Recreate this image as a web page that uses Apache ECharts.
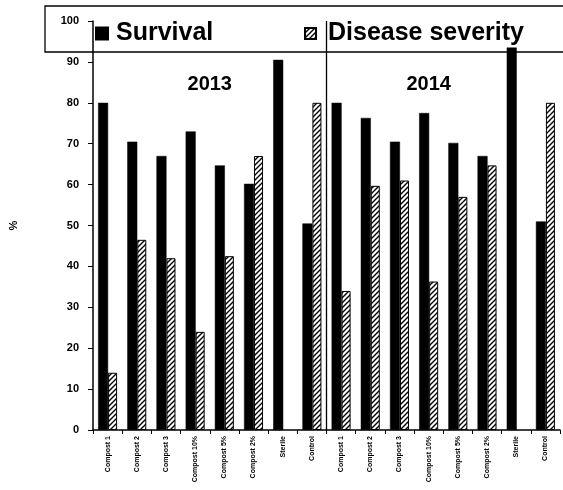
<!DOCTYPE html>
<html><head><meta charset="utf-8">
<script src="https://cdn.jsdelivr.net/npm/echarts@6/dist/echarts.min.js"></script>
<style>html,body{margin:0;padding:0;background:#fff}#c{width:563px;height:490px}</style>
</head><body><div id="c"></div>
<script>
const treatments = ['Compost 1','Compost 2','Compost 3','Compost 10%','Compost 5%','Compost 2%','Sterile','Control'];
const years = ['2013','2014'];
const survival2013 = [80, 70.5, 67, 73, 64.7, 60.2, 90.5, 50.5];
const survival2014 = [80, 76.3, 70.5, 77.5, 70.2, 67, 93.5, 51];
const severity2013 = [14, 46.5, 42, 24, 42.5, 67, '-', 80];
const severity2014 = [34, 59.7, 61, 36.3, 57, 64.7, '-', 80];
const yTicks = {min: 0, max: 100, interval: 10};

const categories = years.flatMap(y => treatments.map(t => y + '|' + t));
const survival = survival2013.concat(survival2014);
const severity = severity2013.concat(severity2014);

function hatch() {
  const s = 5, c = document.createElement('canvas');
  c.width = s; c.height = s;
  const g = c.getContext('2d');
  g.fillStyle = '#fff'; g.fillRect(0, 0, s, s);
  g.strokeStyle = '#000'; g.lineWidth = 1.4;
  g.beginPath();
  g.moveTo(-1, s + 1); g.lineTo(s + 1, -1);
  g.moveTo(-1, 1); g.lineTo(1, -1);
  g.moveTo(s - 1, s + 1); g.lineTo(s + 1, s - 1);
  g.stroke();
  return c;
}
const hatchFill = {image: hatch(), repeat: 'repeat'};
const FONT = '"Liberation Sans", Arial, sans-serif';

const chart = echarts.init(document.getElementById('c'), null, {renderer: 'canvas'});
chart.setOption({
  animation: false,
  backgroundColor: '#fff',
  textStyle: {fontFamily: FONT},
  grid: {left: 91, right: 3, top: 21, bottom: 60, containLabel: false},
  legend: [
    {data: ['Survival'], left: 90, top: 16, icon: 'rect', itemWidth: 12, itemHeight: 12, itemGap: 6,
     textStyle: {fontFamily: FONT, fontWeight: 'bold', fontSize: 25, color: '#000', padding: [0,0,0,3]}},
    {data: ['Disease severity'], left: 299, top: 16, icon: 'rect', itemWidth: 11, itemHeight: 11, itemGap: 6,
     textStyle: {fontFamily: FONT, fontWeight: 'bold', fontSize: 25, color: '#000', padding: [0,0,0,7]}}
  ],
  xAxis: {
    type: 'category', data: categories,
    axisLine: {lineStyle: {color: '#000', width: 1.5}},
    axisTick: {show: true, length: 4, lineStyle: {color: '#000'}},
    axisLabel: {rotate: 90, fontSize: 7, fontWeight: 'bold', color: '#000', margin: 6,
      formatter: v => v.split('|')[1]},
    splitLine: {show: false}
  },
  yAxis: {
    type: 'value', min: yTicks.min, max: yTicks.max, interval: yTicks.interval,
    name: '%', nameLocation: 'middle', nameGap: 74, nameRotate: 90,
    nameTextStyle: {fontSize: 11, fontWeight: 'bold', color: '#000'},
    axisLine: {show: true, lineStyle: {color: '#000', width: 1.5}},
    axisTick: {show: true, length: 5, lineStyle: {color: '#000'}},
    axisLabel: {fontSize: 11, fontWeight: 'bold', color: '#000', margin: 14},
    splitLine: {show: false}
  },
  series: [
    {name: 'Survival', type: 'bar', data: survival, barWidth: 10, barGap: '0%',
     itemStyle: {color: '#000', borderColor: '#000', borderWidth: 0.5}},
    {name: 'Disease severity', type: 'bar', data: severity, barWidth: 9, barGap: '0%',
     itemStyle: {color: hatchFill, borderColor: '#000', borderWidth: 1}}
  ]
});

// annotations positioned from the axis scales
const p = i => chart.convertToPixel({xAxisIndex: 0}, categories[i]);
const yTop = chart.convertToPixel({yAxisIndex: 0}, yTicks.max);
const yBot = chart.convertToPixel({yAxisIndex: 0}, yTicks.min);
const yYear = chart.convertToPixel({yAxisIndex: 0}, 84.5);
const divX = (p(7) + p(8)) / 2;
chart.setOption({
  graphic: [
    {type: 'rect', shape: {x: 45, y: 6, width: 530, height: 46}, silent: true,
     style: {fill: null, stroke: '#000', lineWidth: 1.3}},
    {type: 'line', shape: {x1: divX, y1: yTop, x2: divX, y2: yBot}, silent: true,
     style: {stroke: '#000', lineWidth: 1.3}},
    {type: 'text', x: (p(3) + p(4)) / 2, y: yYear, silent: true,
     style: {text: years[0], font: 'bold 20px ' + FONT, fill: '#000', align: 'center', verticalAlign: 'middle'}},
    {type: 'text', x: p(11), y: yYear, silent: true,
     style: {text: years[1], font: 'bold 20px ' + FONT, fill: '#000', align: 'center', verticalAlign: 'middle'}}
  ]
});
</script></body></html>
